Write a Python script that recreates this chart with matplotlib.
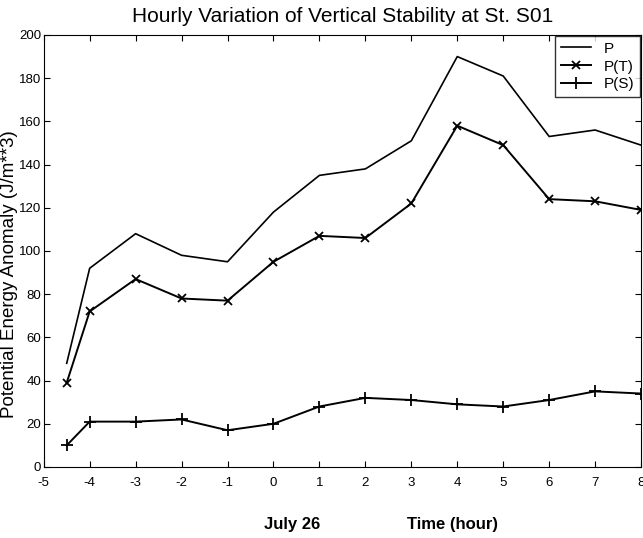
import matplotlib
matplotlib.use('Agg')
import matplotlib.pyplot as plt

plt.rcParams['font.family'] = ['Liberation Sans', 'DejaVu Sans']
plt.rcParams['axes.unicode_minus'] = False

# 시간 (hour)
hours = [-4.5, -4, -3, -2, -1, 0, 1, 2, 3, 4, 5, 6, 7, 8]
# 위치 에너지 이상값
p_total = [48, 92, 108, 98, 95, 118, 135, 138, 151, 190, 181, 153, 156, 149]
p_temp = [39, 72, 87, 78, 77, 95, 107, 106, 122, 158, 149, 124, 123, 119]
p_salt = [10, 21, 21, 22, 17, 20, 28, 32, 31, 29, 28, 31, 35, 34]

fig = plt.figure(figsize=(6.43, 5.38), dpi=100)
ax = fig.add_axes([0.068, 0.132, 0.929, 0.803])

ax.plot(hours, p_total, c='black', lw=1.2, label='P')
ax.plot(hours, p_temp, c='black', lw=1.4, marker='x', ms=6, mew=1.3, label='P(T)')
ax.plot(hours, p_salt, c='black', lw=1.4, marker='+', ms=8, mew=1.3, label='P(S)')

ax.set_xlim(-5, 8)
ax.set_ylim(0, 200)
ax.set_xticks(range(-5, 9))
ax.set_yticks(range(0, 201, 20))
ax.tick_params(direction='in', top=True, right=True, labelsize=9.5, length=4)
ax.tick_params(axis='x', pad=7)
ax.tick_params(axis='y', pad=2)

ax.set_title('Hourly Variation of Vertical Stability at St. S01', fontsize=15, pad=9)
ax.set_ylabel('Potential Energy Anomaly (J/m**3)', fontsize=13.5)
ax.yaxis.set_label_coords(-0.043, 0.447)
fig.text(0.455, 0.025, 'July 26', fontsize=12, fontweight='bold', ha='center', va='center')
fig.text(0.703, 0.025, 'Time (hour)', fontsize=12, fontweight='bold', ha='center', va='center')

leg = ax.legend(loc='upper right', fontsize=11, frameon=True, fancybox=False,
                edgecolor='black', handlelength=2.0, borderpad=0.35,
                labelspacing=0.25, borderaxespad=0.1)
leg.get_frame().set_linewidth(1.0)

fig.savefig('out.png', dpi=100)
